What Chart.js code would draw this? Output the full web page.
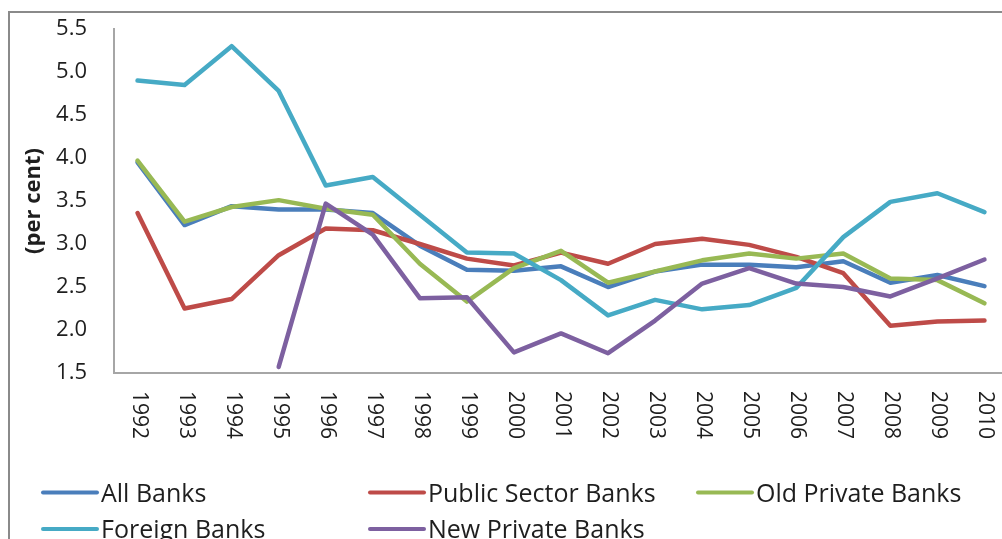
<!DOCTYPE html>
<html>
<head>
<meta charset="utf-8">
<title>Banks (per cent)</title>
<script src="https://cdn.jsdelivr.net/npm/chart.js@4.4.0/dist/chart.umd.min.js"></script>
<style>
    html, body { margin: 0; padding: 0; background: #fff; overflow: hidden; }
    #cadre { position: absolute; left: 8px; top: 11px; width: 1200px; height: 800px; border: 2px solid #8a8a8a; pointer-events: none; }
    #graphe { position: absolute; left: 0; top: 0; }
</style>
</head>
<body>
<div id="cadre"></div>
<canvas id="graphe" width="1008" height="539"></canvas>
<script>
var annees = ["1992", "1993", "1994", "1995", "1996", "1997", "1998", "1999", "2000", "2001",
    "2002", "2003", "2004", "2005", "2006", "2007", "2008", "2009", "2010"];

var toutesBanques = [3.95, 3.22, 3.44, 3.40, 3.40, 3.36, 2.98, 2.70, 2.69, 2.74, 2.50, 2.68, 2.76, 2.76, 2.73, 2.80, 2.55, 2.64, 2.51];
var secteurPublic = [3.36, 2.25, 2.36, 2.87, 3.18, 3.16, 3.00, 2.83, 2.75, 2.90, 2.77, 3.00, 3.06, 2.99, 2.85, 2.66, 2.05, 2.10, 2.11];
var anciennesPrivees = [3.97, 3.26, 3.43, 3.51, 3.41, 3.34, 2.77, 2.33, 2.72, 2.92, 2.55, 2.68, 2.81, 2.89, 2.83, 2.89, 2.60, 2.58, 2.31];
var etrangeres = [4.90, 4.85, 5.30, 4.78, 3.68, 3.78, 3.34, 2.90, 2.89, 2.58, 2.17, 2.35, 2.24, 2.29, 2.49, 3.08, 3.49, 3.59, 3.37];
var nouvellesPrivees = [null, null, null, 1.57, 3.47, 3.11, 2.37, 2.38, 1.74, 1.96, 1.73, 2.11, 2.54, 2.72, 2.54, 2.50, 2.39, 2.60, 2.82];

var noms = ["All Banks", "Public Sector Banks", "Old Private Banks", "Foreign Banks", "New Private Banks"];
var couleurs = ["#4A7EBB", "#BE4B48", "#98B954", "#46AAC5", "#7D60A0"];
var series = [toutesBanques, secteurPublic, anciennesPrivees, etrangeres, nouvellesPrivees];

var yTicks = [1.5, 2.0, 2.5, 3.0, 3.5, 4.0, 4.5, 5.0, 5.5];
var titreY = "(per cent)";

var couleurTexte = "#1e1e1e";

// legende : 3 colonnes, 2 lignes
var legendeX = [43, 370, 698];
var legendeY = [492.5, 529];

var datasets = [];
for (let i = 0; i < series.length; i++) {
    datasets.push({
        label: noms[i],
        data: series[i],
        borderColor: couleurs[i],
        backgroundColor: couleurs[i],
        borderWidth: 4.5,
        pointRadius: 0,
        pointHoverRadius: 0,
        tension: 0,
        fill: false,
        spanGaps: false,
        borderJoinStyle: "round",
        borderCapStyle: "round",
        order: series.length - i
    });
}

var texteExtra = {
    id: "texteExtra",
    afterDraw: function (chart) {
        var ctx = chart.ctx;
        var xScale = chart.scales.x;
        var yScale = chart.scales.y;

        // annees, ecrites de haut en bas
        ctx.save();
        ctx.fillStyle = couleurTexte;
        ctx.font = "21px 'Open Sans'";
        ctx.textAlign = "left";
        ctx.textBaseline = "middle";
        for (let i = 0; i < annees.length; i++) {
            var x = xScale.getPixelForTick(i);
            ctx.save();
            ctx.translate(x + 1, chart.chartArea.bottom + 18);
            ctx.rotate(Math.PI / 2);
            ctx.fillText(annees[i], 0, 0);
            ctx.restore();
        }
        ctx.restore();

        // titre de l'axe y
        ctx.save();
        ctx.fillStyle = couleurTexte;
        ctx.font = "bold 22px 'Open Sans'";
        ctx.textAlign = "center";
        ctx.textBaseline = "middle";
        ctx.translate(34, yScale.getPixelForValue(3.5));
        ctx.rotate(-Math.PI / 2);
        ctx.fillText(titreY, 0, 0);
        ctx.restore();

        // legende
        ctx.save();
        ctx.font = "25px 'Open Sans'";
        ctx.textAlign = "left";
        ctx.textBaseline = "alphabetic";
        for (let i = 0; i < noms.length; i++) {
            var lx = legendeX[i % 3];
            var ly = legendeY[Math.floor(i / 3)];
            ctx.strokeStyle = couleurs[i];
            ctx.lineWidth = 4;
            ctx.lineCap = "round";
            ctx.beginPath();
            ctx.moveTo(lx, ly);
            ctx.lineTo(lx + 54, ly);
            ctx.stroke();
            ctx.fillStyle = couleurTexte;
            ctx.fillText(noms[i], lx + 58, ly + 9);
        }
        ctx.restore();
    }
};

new Chart(document.getElementById("graphe").getContext("2d"), {
    type: "line",
    data: {
        labels: annees,
        datasets: datasets
    },
    options: {
        responsive: false,
        animation: false,
        events: [],
        layout: {
            padding: { left: 0, right: 0, top: 29, bottom: 0 }
        },
        plugins: {
            legend: { display: false },
            title: { display: false },
            tooltip: { enabled: false }
        },
        scales: {
            x: {
                offset: true,
                grid: { display: false, drawTicks: false },
                border: { display: true, color: "#a6a6a6", width: 2 },
                ticks: { display: false },
                afterFit: function (scale) {
                    scale.height = 166;
                    scale.paddingLeft = 0;
                    scale.paddingRight = 0;
                }
            },
            y: {
                min: 1.5,
                max: 5.5,
                afterBuildTicks: function (scale) {
                    scale.ticks = yTicks.map(function (v) { return { value: v }; });
                },
                grid: { display: false, drawTicks: false },
                border: { display: true, color: "#a6a6a6", width: 2 },
                ticks: {
                    padding: 27,
                    color: couleurTexte,
                    font: { family: "'Open Sans'", size: 22 },
                    callback: function (v) { return Number(v).toFixed(1); }
                },
                afterFit: function (scale) {
                    scale.width = 114;
                    scale.paddingTop = 0;
                    scale.paddingBottom = 0;
                }
            }
        }
    },
    plugins: [texteExtra]
});
</script>
</body>
</html>
